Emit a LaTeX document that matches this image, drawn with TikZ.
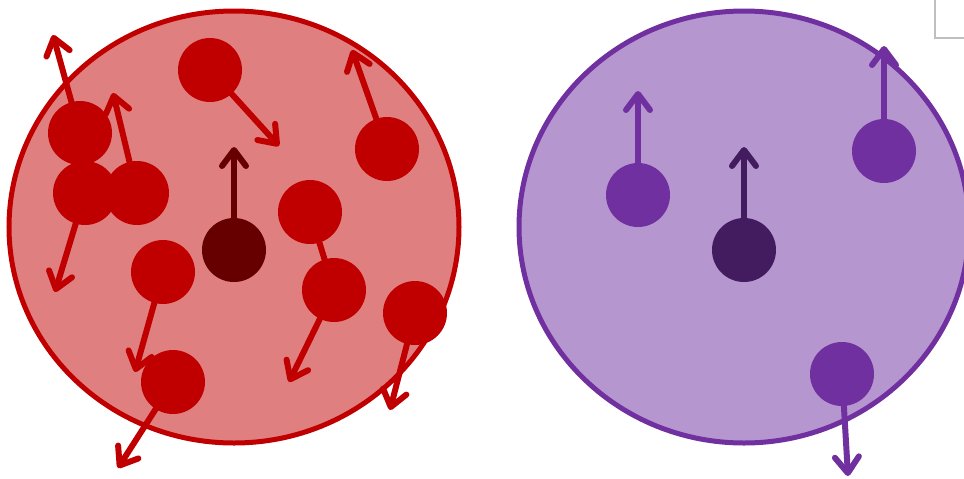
\documentclass[tikz,border=0pt]{standalone}
\usepackage{tikz}
\usepackage{xcolor}
\usetikzlibrary{arrows.meta, backgrounds}

\definecolor{hotred}{HTML}{C00000}
\definecolor{hotfill}{HTML}{E07F7F}
\definecolor{hotdark}{HTML}{660000}
\definecolor{coldpurple}{HTML}{7030A0}
\definecolor{coldfill}{HTML}{B696CF}
\definecolor{colddark}{HTML}{421C5E}

\begin{document}
\begin{tikzpicture}[
    x=0.5pt, y=-0.5pt,
    >={Straight Barb[length=8pt,width=12pt,round]},
    gas/.style={line width=2.5pt},
    particle/.style={circle, inner sep=0pt, minimum size=32pt},
    velocity/.style={->, line width=3pt}
]
\useasboundingbox (0,0) rectangle (964,478);

% Hot gas: particles
\node[particle, fill=hotred] (h1) at (210,70) {};
\node[particle, fill=hotred] (h2) at (80,133) {};
\node[particle, fill=hotred] (h3) at (85,193) {};
\node[particle, fill=hotred] (h4) at (137,193) {};
\node[particle, fill=hotred] (h5) at (387,149) {};
\node[particle, fill=hotdark] (h6) at (234,250) {};
\node[particle, fill=hotred] (h7) at (310,212) {};
\node[particle, fill=hotred] (h8) at (334,290) {};
\node[particle, fill=hotred] (h9) at (163,272) {};
\node[particle, fill=hotred] (h10) at (173,382) {};
\node[particle, fill=hotred] (h11) at (415,313) {};

% Cold gas: particles
\node[particle, fill=coldpurple] (c1) at (638,195) {};
\node[particle, fill=colddark] (c2) at (744,250) {};
\node[particle, fill=coldpurple] (c3) at (884,151) {};
\node[particle, fill=coldpurple] (c4) at (842,374) {};

% Velocity ends
\coordinate (v1) at (279,146);
\coordinate (v2) at (53,35);
\coordinate (v3) at (55,292);
\coordinate (v4) at (113,93);
\coordinate (v5) at (352,50);
\coordinate (v6) at (234,147);
\coordinate (v8) at (289,382);
\coordinate (v9) at (135,372);
\coordinate (v10) at (118,468);
\coordinate (v11) at (390,410);
\coordinate (w1) at (638,91);
\coordinate (w2) at (744,147);
\coordinate (w3) at (884,46);
\coordinate (w4) at (848,476);

\begin{scope}[on background layer]
% Containers
\draw[gas, draw=hotred, fill=hotfill] (234,227) ellipse [x radius=225, y radius=216];
\draw[gas, draw=coldpurple, fill=coldfill] (744,227) ellipse [x radius=225, y radius=216];

% Velocities
\draw[velocity, hotred] (h1.center) -- (v1);
\draw[velocity, hotred] (h2.center) -- (v2);
\draw[velocity, hotred] (h3.center) -- (v3);
\draw[velocity, hotred] (h4.center) -- (v4);
\draw[velocity, hotred] (h5.center) -- (v5);
\draw[velocity, hotdark] (h6.center) -- (v6);
\draw[velocity, hotred] (h7.center) -- (h8.center);
\draw[velocity, hotred] (h8.center) -- (v8);
\draw[velocity, hotred] (h9.center) -- (v9);
\draw[velocity, hotred] (h10.center) -- (v10);
\draw[velocity, hotred] (h11.center) -- (v11);
\draw[velocity, coldpurple] (c1.center) -- (w1);
\draw[velocity, colddark] (c2.center) -- (w2);
\draw[velocity, coldpurple] (c3.center) -- (w3);
\draw[velocity, coldpurple] (c4.center) -- (w4);
\end{scope}

% Corner mark
\draw[gray!50, line width=1pt] (935,0) -- (935,38) -- (964,38);

\end{tikzpicture}
\end{document}
